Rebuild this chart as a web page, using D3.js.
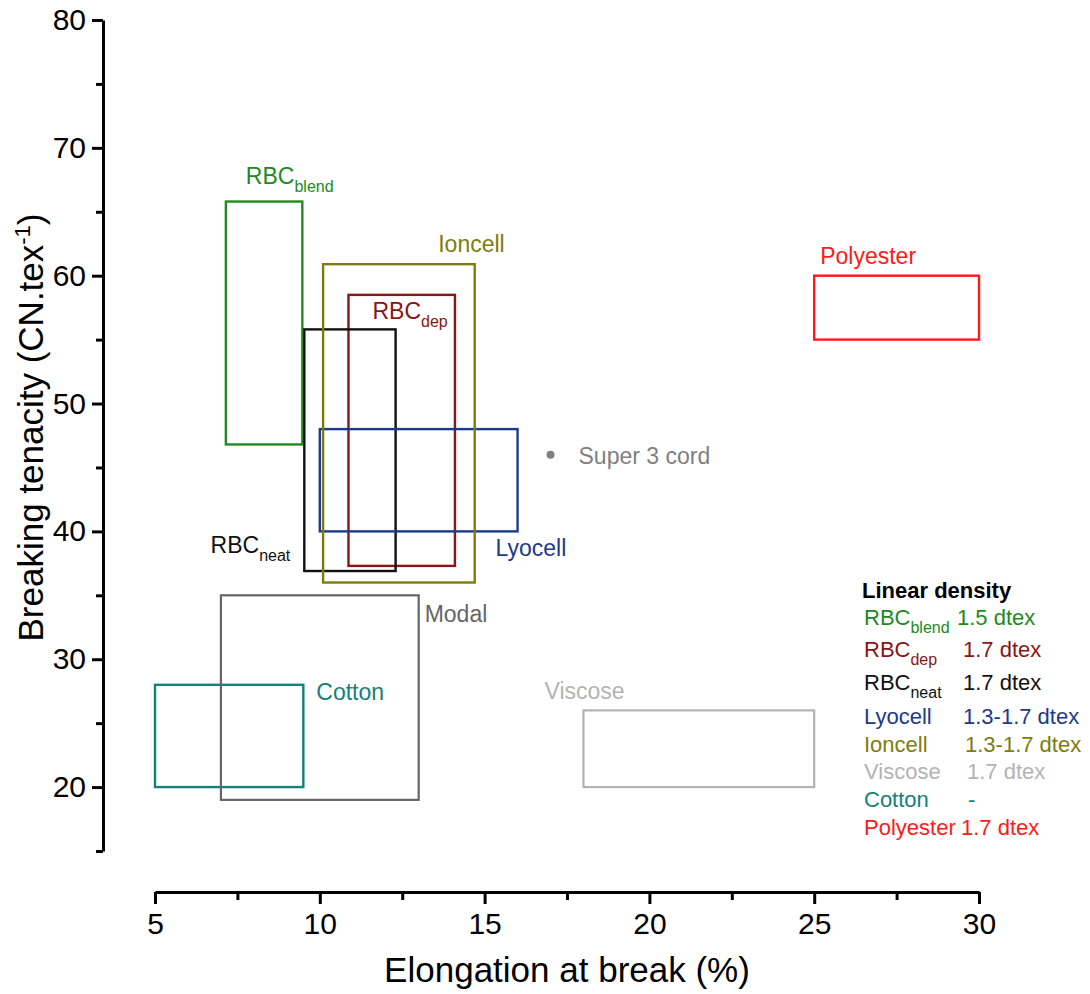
<!DOCTYPE html>
<html>
<head>
<meta charset="utf-8">
<script src="https://cdn.jsdelivr.net/npm/d3@7"></script>
<style>
  html, body { margin: 0; padding: 0; background: #fff; }
  svg { display: block; font-family: "Liberation Sans", Arial, sans-serif; }
</style>
</head>
<body>
<svg id="chart" width="1090" height="994"></svg>
<script>
// ---------------- data ----------------
const fibres      = ["RBCblend", "RBCdep", "RBCneat", "Lyocell", "Ioncell", "Viscose", "Cotton", "Polyester", "Modal"];
const mainNames   = ["RBC", "RBC", "RBC", "Lyocell", "Ioncell", "Viscose", "Cotton", "Polyester", "Modal"];
const subNames    = ["blend", "dep", "neat", "", "", "", "", "", ""];
const elongMin    = [7.15, 10.87, 9.53, 10.0, 10.1, 18.0, 5.0, 25.0, 7.0];
const elongMax    = [9.47, 14.1, 12.3, 16.0, 14.7, 25.0, 9.5, 30.0, 13.0];
const tenacityMin = [46.8, 37.3, 36.9, 40.0, 36.0, 20.0, 20.0, 55.0, 19.0];
const tenacityMax = [65.8, 58.5, 55.8, 48.0, 60.9, 26.0, 28.0, 60.0, 35.0];
const pointName   = "Super 3 cord";
const pointElong  = 17.0;
const pointTen    = 46.0;
const legendTitle = "Linear density";
const legendNames = ["RBCblend", "RBCdep", "RBCneat", "Lyocell", "Ioncell", "Viscose", "Cotton", "Polyester"];
const legendDensity = ["1.5 dtex", "1.7 dtex", "1.7 dtex", "1.3-1.7 dtex", "1.3-1.7 dtex", "1.7 dtex", "-", "1.7 dtex"];
const xTicks      = [5, 10, 15, 20, 25, 30];
const xMinorTicks = [7.5, 12.5, 17.5, 22.5, 27.5];
const yTicks      = [20, 30, 40, 50, 60, 70, 80];
const yMinorTicks = [15, 25, 35, 45, 55, 65, 75];
const xTitle = "Elongation at break (%)";

// ---------------- styles ----------------
const colors = {
  RBCblend: "#218a21", RBCdep: "#8b1414", RBCneat: "#111111", Lyocell: "#1c3a8c",
  Ioncell: "#7d7d0c", Viscose: "#b3b3b3", Cotton: "#16807d", Polyester: "#ff1a1a",
  Modal: "#666666", point: "#808080"
};

const svg = d3.select("#chart");
const x = d3.scaleLinear().domain([5, 30]).range([155, 979]);
const y = d3.scaleLinear().domain([15, 80]).range([851, 20]);
const yAxisX = 103, xAxisY = 892;

// axes
function styleAxis(g) {
  g.select(".domain").attr("stroke", "#000").attr("stroke-width", 3);
  g.selectAll(".tick line").attr("stroke", "#000").attr("stroke-width", 3);
  g.selectAll(".tick text").attr("fill", "#000").style("font-size", "30px").style("font-family", "'Liberation Sans', Arial, sans-serif");
}
const gx = svg.append("g").attr("transform", `translate(0,${xAxisY})`)
  .call(d3.axisBottom(x).tickValues(xTicks).tickSize(12).tickSizeOuter(0).tickPadding(9).tickFormat(d3.format("d")));
styleAxis(gx);
svg.append("g").attr("transform", `translate(0,${xAxisY})`)
  .call(d3.axisBottom(x).tickValues(xMinorTicks).tickSize(8).tickFormat(""))
  .call(g => { g.select(".domain").remove(); g.selectAll(".tick line").attr("stroke", "#000").attr("stroke-width", 3); });

const gy = svg.append("g").attr("transform", `translate(${yAxisX},0)`)
  .call(d3.axisLeft(y).tickValues(yTicks).tickSize(11).tickSizeOuter(0).tickPadding(6).tickFormat(d3.format("d")));
styleAxis(gy);
svg.append("g").attr("transform", `translate(${yAxisX},0)`)
  .call(d3.axisLeft(y).tickValues(yMinorTicks).tickSize(7).tickFormat(""))
  .call(g => { g.select(".domain").remove(); g.selectAll(".tick line").attr("stroke", "#000").attr("stroke-width", 3); });

// axis titles
svg.append("text").attr("x", (x(5) + x(30)) / 2).attr("y", 982)
  .attr("text-anchor", "middle").style("font-size", "35px").attr("fill", "#000").text(xTitle);
const yt = svg.append("text")
  .attr("transform", `translate(43,${(y(15) + y(80)) / 2 - 8}) rotate(-90)`)
  .attr("text-anchor", "middle").style("font-size", "35px").attr("fill", "#000");
yt.append("tspan").text("Breaking tenacity (CN.tex");
yt.append("tspan").attr("dy", -13).style("font-size", "22px").text("-1");
yt.append("tspan").attr("dy", 13).text(")");

// rectangles
const rows = fibres.map((f, i) => ({ f, i }));
svg.append("g").selectAll("rect").data(rows).join("rect")
  .attr("x", d => x(elongMin[d.i]))
  .attr("y", d => y(tenacityMax[d.i]))
  .attr("width", d => x(elongMax[d.i]) - x(elongMin[d.i]))
  .attr("height", d => y(tenacityMin[d.i]) - y(tenacityMax[d.i]))
  .attr("fill", "none")
  .attr("stroke", d => colors[d.f])
  .attr("stroke-width", d => d.f === "Modal" || d.f === "Viscose" ? 2.2 : 2.4);

// labels placed relative to each rectangle
const labelPlace = {
  RBCblend: { corner: ["min", "max"], dx: 20, dy: -18, anchor: "start" },
  RBCdep:   { corner: ["min", "max"], dx: 24, dy: 24, anchor: "start" },
  RBCneat:  { corner: ["min", "min"], dx: -14, dy: -18, anchor: "end" },
  Lyocell:  { corner: ["max", "min"], dx: -22, dy: 25, anchor: "start" },
  Ioncell:  { corner: ["max", "max"], dx: 30, dy: -12, anchor: "end" },
  Viscose:  { corner: ["min", "max"], dx: -39, dy: -11, anchor: "start" },
  Cotton:   { corner: ["max", "max"], dx: 13, dy: 15, anchor: "start" },
  Polyester:{ corner: ["min", "max"], dx: 6, dy: -12, anchor: "start" },
  Modal:    { corner: ["max", "max"], dx: 6, dy: 27, anchor: "start" }
};
fibres.forEach((f, i) => {
  const p = labelPlace[f];
  const px = x(p.corner[0] === "min" ? elongMin[i] : elongMax[i]) + p.dx;
  const py = y(p.corner[1] === "min" ? tenacityMin[i] : tenacityMax[i]) + p.dy;
  const t = svg.append("text").attr("x", px).attr("y", py).attr("text-anchor", p.anchor)
    .attr("fill", colors[f]).style("font-size", "23px");
  t.append("tspan").text(mainNames[i]);
  if (subNames[i]) t.append("tspan").attr("dy", 8).style("font-size", "16px").text(subNames[i]);
});

// Super 3 cord point
svg.append("circle").attr("cx", x(pointElong)).attr("cy", y(pointTen)).attr("r", 4).attr("fill", colors.point);
svg.append("text").attr("x", x(pointElong) + 28).attr("y", y(pointTen) + 9)
  .attr("fill", colors.point).style("font-size", "23px").text(pointName);

// legend
const legX = 864;
svg.append("text").attr("x", legX - 2).attr("y", 598).style("font-size", "22px").style("font-weight", "bold")
  .attr("fill", "#000").text(legendTitle);
const legBase = [625, 657, 690, 724, 752, 779, 807, 835];
const legX2s  = [957, 963, 963, 963, 965, 967, 968, 961];
legendNames.forEach((n, k) => {
  const i = fibres.indexOf(n);
  const t = svg.append("text").attr("x", legX).attr("y", legBase[k]).attr("fill", colors[n]).style("font-size", "22px");
  t.append("tspan").text(mainNames[i]);
  if (subNames[i]) t.append("tspan").attr("dy", 8).style("font-size", "16px").text(subNames[i]);
  svg.append("text").attr("x", legX2s[k]).attr("y", legBase[k]).attr("fill", colors[n]).style("font-size", "22px")
    .text(legendDensity[k]);
});
</script>
</body>
</html>
